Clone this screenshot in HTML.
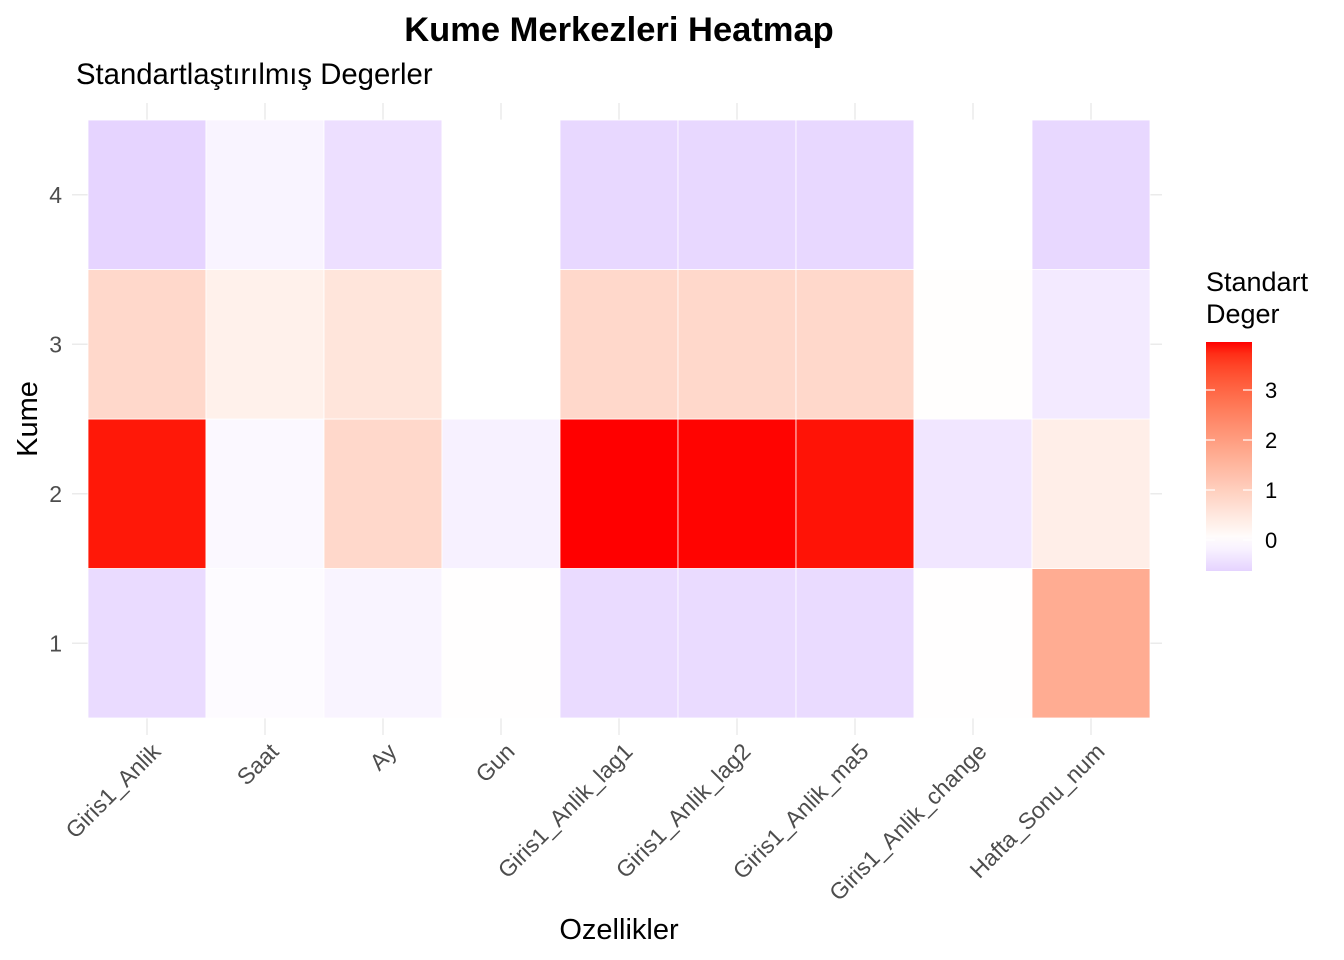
<!DOCTYPE html>
<html><head><meta charset="utf-8"><style>
body{margin:0;background:#fff}
svg{display:block;font-family:"Liberation Sans",Arial,sans-serif}
</style></head><body>
<svg id="chart" width="1344" height="960" viewBox="0 0 1344 960">
<text x="619" y="41" text-anchor="middle" font-size="34.5" font-weight="bold" fill="#000">Kume Merkezleri Heatmap</text>
<text x="76" y="84" font-size="29.3" fill="#000">Standartlaştırılmış Degerler</text>
<g id="grid"></g>
<g id="tiles"></g>
<g id="xlabels"></g>
<g id="ylabels"></g>
<text x="619" y="939" text-anchor="middle" font-size="29" fill="#000">Ozellikler</text>
<text transform="translate(37,419) rotate(-90)" text-anchor="middle" font-size="29" fill="#000">Kume</text>
<g>
<text x="1206" y="291" font-size="27" fill="#000">Standart</text>
<text x="1206" y="323" font-size="27" fill="#000">Deger</text>
<defs><linearGradient id="lg" x1="0" y1="1" x2="0" y2="0"></linearGradient></defs>
<rect x="1206" y="342" width="46" height="229" fill="url(#lg)"/>
<g id="legticks"></g>
</g>
</svg>
<script>
const features = ["Giris1_Anlik","Saat","Ay","Gun","Giris1_Anlik_lag1","Giris1_Anlik_lag2","Giris1_Anlik_ma5","Giris1_Anlik_change","Hafta_Sonu_num"];
const clusters = ["1","2","3","4"];
const cluster1 = [-0.5,-0.05,-0.15,0.02,-0.5,-0.5,-0.5,0.02,1.7];
const cluster2 = [3.88,-0.1,0.8,-0.2,3.96,3.95,3.9,-0.35,0.35];
const cluster3 = [0.8,0.3,0.55,0.0,0.8,0.8,0.8,0.03,-0.3];
const cluster4 = [-0.6,-0.15,-0.45,0.0,-0.55,-0.55,-0.55,0.0,-0.55];
const legendTicks = [0,1,2,3];
const values = [cluster1,cluster2,cluster3,cluster4];
const NS="http://www.w3.org/2000/svg";
const px0=88, px1=1150, py0=120, py1=718;
const cw=(px1-px0)/features.length, rh=(py1-py0)/clusters.length;
const xc=i=>px0+cw*(i+0.5);
const yc=j=>py1-rh*(j+0.5);
const all=values.flat();
const vmax=Math.max(...all), vmin=Math.min(...all)-0.02;
const lim=Math.max(Math.abs(vmax),Math.abs(vmin));
function toLin(c){c/=255;return c<=0.04045?c/12.92:Math.pow((c+0.055)/1.055,2.4)}
function fromLin(c){c=c<=0.0031308?12.92*c:1.055*Math.pow(c,1/2.4)-0.055;return Math.max(0,Math.min(255,Math.round(c*255)))}
function rgb2lab(r,g,b){r=toLin(r);g=toLin(g);b=toLin(b);
let X=(r*0.4124+g*0.3576+b*0.1805)/0.95047,Y=r*0.2126+g*0.7152+b*0.0722,Z=(r*0.0193+g*0.1192+b*0.9505)/1.08883;
const f=t=>t>0.008856?Math.cbrt(t):7.787*t+16/116;X=f(X);Y=f(Y);Z=f(Z);return [116*Y-16,500*(X-Y),200*(Y-Z)]}
function lab2rgb(L,a,b){let Y=(L+16)/116,X=a/500+Y,Z=Y-b/200;const fi=t=>t**3>0.008856?t**3:(t-16/116)/7.787;
X=fi(X)*0.95047;Y=fi(Y);Z=fi(Z)*1.08883;
const r=X*3.2406+Y*-1.5372+Z*-0.4986,g=X*-0.9689+Y*1.8758+Z*0.0415,bb=X*0.0557+Y*-0.2040+Z*1.0570;
return `rgb(${fromLin(r)},${fromLin(g)},${fromLin(bb)})`}
const W=rgb2lab(255,255,255),R=rgb2lab(255,0,0),B=rgb2lab(0,0,255);
function color(v){let t=Math.abs(v)/lim;if(v<0)t*=1.2;t=Math.min(1,t);const E=v>=0?R:B;
return lab2rgb(W[0]+(E[0]-W[0])*t,W[1]+(E[1]-W[1])*t,W[2]+(E[2]-W[2])*t)}
function el(tag,attrs,parent){const e=document.createElementNS(NS,tag);for(const k in attrs)e.setAttribute(k,attrs[k]);parent.appendChild(e);return e}
const grid=document.getElementById('grid');
features.forEach((f,i)=>{const l=el('line',{x1:xc(i),x2:xc(i),y1:103,y2:735,stroke:'#ebebeb','stroke-width':1.5},grid);

});
clusters.forEach((c,j)=>{const l=el('line',{x1:72,x2:1162,y1:yc(j),y2:yc(j),stroke:'#ebebeb','stroke-width':1.5},grid);

});
const tiles=document.getElementById('tiles');
values.forEach((row,j)=>row.forEach((v,i)=>{
const r=el('rect',{x:px0+cw*i,y:py1-rh*(j+1),width:cw,height:rh,fill:color(v),stroke:'#fff','stroke-width':0.8},tiles);


}));
const xl=document.getElementById('xlabels');
features.forEach((f,i)=>{const t=el('text',{transform:`translate(${xc(i)+15},${753}) rotate(-45)`,'text-anchor':'end','font-size':23,fill:'#4d4d4d'},xl);t.textContent=f;

});
const yl=document.getElementById('ylabels');
clusters.forEach((c,j)=>{const t=el('text',{x:62,y:yc(j)+8,'text-anchor':'end','font-size':23,fill:'#4d4d4d'},yl);t.textContent=c;

});
const lg=document.getElementById('lg');
const ly0=571, ly1=342;
for(let k=0;k<=20;k++){const v=vmin+(vmax-vmin)*k/20;el('stop',{offset:k/20,'stop-color':color(v)},lg);}
const ly=v=>ly0-(v-vmin)/(vmax-vmin)*(ly0-ly1);
const lt=document.getElementById('legticks');
legendTicks.forEach(v=>{const y=ly(v);
el('line',{x1:1206,x2:1215,y1:y,y2:y,stroke:'#fff','stroke-width':1.2},lt);
el('line',{x1:1243,x2:1252,y1:y,y2:y,stroke:'#fff','stroke-width':1.2},lt);
const t=el('text',{x:1265,y:y+8,'font-size':22,fill:'#000'},lt);t.textContent=v;

});
</script>
</body></html>
